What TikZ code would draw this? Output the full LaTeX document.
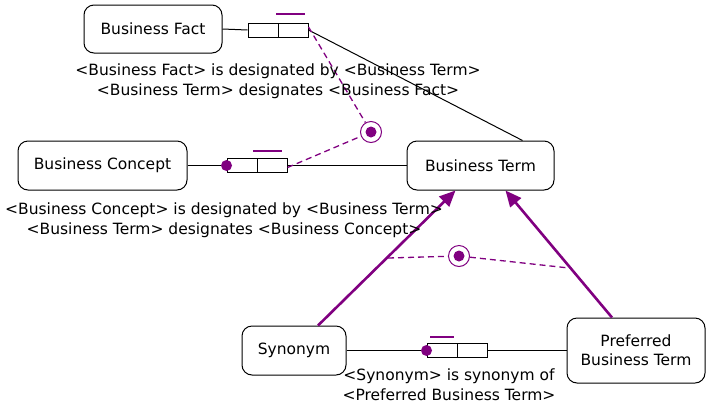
\documentclass[tikz,border=0pt]{standalone}
\usepackage{fontspec}
\setmainfont{DejaVu Sans}
\usetikzlibrary{arrows.meta,calc}
\definecolor{vio}{RGB}{128,0,128}
\tikzset{
  concept/.style={draw, line width=1pt, rounded corners=10pt, inner sep=0pt, font=\fontsize{15.5}{19}\selectfont, align=center},
  rolecell/.style={draw, line width=1pt, minimum width=30pt, minimum height=14pt, inner sep=0pt},
  lbl/.style={font=\fontsize{15.5}{20}\selectfont, align=center, inner sep=0pt},
  ring/.style={circle, draw=vio, line width=1pt, fill=white, minimum size=21pt, inner sep=0pt},
  rel/.style={line width=1pt},
  dsh/.style={vio, line width=1.3pt, dash pattern=on 6pt off 4pt},
  super/.style={vio, line width=2.6pt, -{Triangle[length=16pt,width=14pt]}},
  bar/.style={vio, line width=1.6pt},
}
\begin{document}
\begin{tikzpicture}[x=1pt,y=-1pt]
\useasboundingbox (0,0) rectangle (706,408);
% concepts
\node[concept, minimum width=138pt, minimum height=48pt] (fact) at (153,29) {Business Fact};
\node[concept, minimum width=169pt, minimum height=49pt] (concept) at (102.5,165.5) {Business Concept};
\node[concept, minimum width=147pt, minimum height=49pt] (term) at (480.5,165.5) {Business Term};
\node[concept, minimum width=104pt, minimum height=49pt] (syn) at (294,350.5) {Synonym};
\node[concept, minimum width=138pt, minimum height=65pt] (pref) at (636,350.5) {Preferred\\Business Term};
% fact type 1
\node[rolecell] (f1) at (263,30) {};
\node[rolecell] (f2) at (293,30) {};
\draw[bar] (276,14) -- (305,14);
\draw[rel] (fact.east) -- (f1.west);
\draw[rel] (f2.east) -- ([xshift=42pt]term.north);
% fact type 2
\node[rolecell] (g1) at (242,165.5) {};
\node[rolecell] (g2) at (272,165.5) {};
\draw[bar] (253,151) -- (282,151);
\draw[rel] (concept.east) -- (g1.west);
\draw[rel] (g2.east) -- (term.west);
\fill[vio] (g1.west) circle (5.5pt);
% fact type 3
\node[rolecell] (h1) at (442,350.5) {};
\node[rolecell] (h2) at (472,350.5) {};
\draw[bar] (430,337) -- (454,337);
\draw[rel] (syn.east) -- (h1.west);
\draw[rel] (h2.east) -- (pref.west);
\fill[vio] (h1.west) circle (5.5pt);
% subtype arrows
\draw[super] ([xshift=24pt]syn.north) -- ([xshift=-25pt]term.south);
\draw[super] ([xshift=-24pt]pref.north) -- ([xshift=25pt]term.south);
% exclusion constraint 1
\node[ring] (x1) at (371,132) {};
\draw[dsh] ([yshift=3pt]f2.east) -- (x1);
\draw[dsh] ([yshift=-2pt]g2.east) -- (x1);
\fill[vio] (x1) circle (5.5pt);
% exclusion constraint 2
\coordinate (a1) at (388,258);
\coordinate (a2) at (569,268);
\node[ring] (x2) at (459,256) {};
\draw[dsh] (a1) -- (x2);
\draw[dsh] (x2) -- (a2);
\fill[vio] (x2) circle (5.5pt);
% labels
\node[lbl] (l1) at (278,81) {<Business Fact> is designated by <Business Term>\\<Business Term> designates <Business Fact>};
\node[lbl] (l2) at (224,220) {<Business Concept> is designated by <Business Term>\\<Business Term> designates <Business Concept>};
\node[lbl] (l3) at (449,385) {<Synonym> is synonym of\\<Preferred Business Term>};
\end{tikzpicture}
\end{document}
